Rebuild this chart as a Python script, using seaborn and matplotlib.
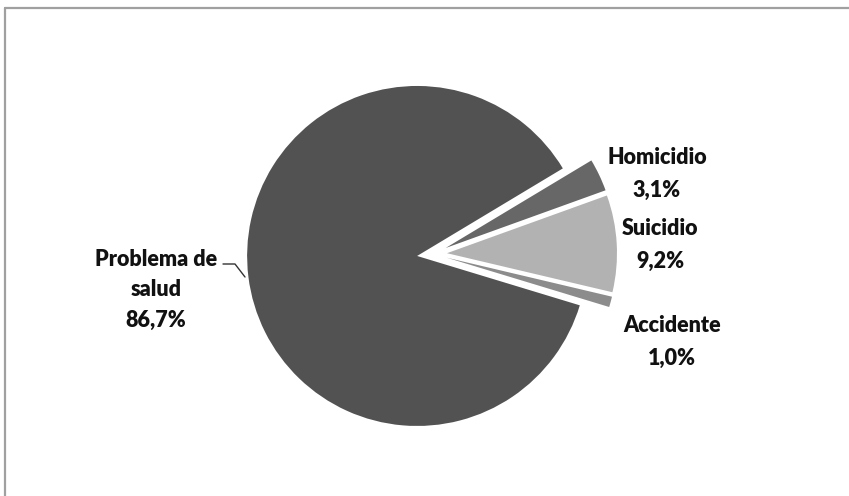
import matplotlib
matplotlib.use('Agg')
import matplotlib.pyplot as plt
from matplotlib.lines import Line2D
import seaborn as sns

# Data
categories = ['Homicidio', 'Suicidio', 'Accidente', 'Problema de\nsalud']
shares = [3.1, 9.2, 1.0, 86.7]
slice_colors = ['#676767', '#b2b2b2', '#8c8c8c', '#525252']
explode = [14, 14, 14, 16]  # offsets in pixel units (axes use pixel scale)

sns.set_theme(style='white')
plt.rcParams['font.family'] = ['Lato', 'DejaVu Sans']

W, H = 849, 496
fig = plt.figure(figsize=(W / 100, H / 100), dpi=100)
ax = fig.add_axes([0, 0, 1, 1])

ax.pie(shares, colors=slice_colors, explode=explode, startangle=31,
       counterclock=False, center=(433, H - 254), radius=170,
       wedgeprops=dict(linewidth=0), frame=True)
ax.set_xlim(0, W)
ax.set_ylim(0, H)
ax.set_aspect('equal')
ax.axis('off')

# Labels (image pixel positions, y measured from top)
label_pos = [(657, 174), (660, 245), (672, 342), (156, 290)]
spacing = [1.75, 1.65, 1.65, 1.55]
for name, val, (x, y), ls in zip(categories, shares, label_pos, spacing):
    txt = f"{name}\n{val:.1f}%".replace('.', ',')
    ax.text(x, H - y, txt, ha='center', va='center', fontsize=15.5,
            fontweight='heavy', color='#111111', linespacing=ls)

# leader line for the big slice
ax.plot([223, 235, 245], [H - 264, H - 264, H - 277], color='#333333', lw=1)

# chart frame (partially visible)
fig.add_artist(Line2D([5 / W, 5 / W], [0, 1 - 8 / H], transform=fig.transFigure,
                      color='#a0a0a0', lw=1.6))
fig.add_artist(Line2D([5 / W, 1], [1 - 8 / H, 1 - 8 / H], transform=fig.transFigure,
                      color='#a0a0a0', lw=1.6))

plt.savefig('out.png', dpi=100)
plt.close()
